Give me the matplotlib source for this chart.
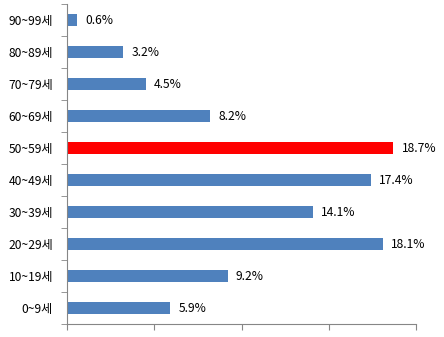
import matplotlib
matplotlib.use("Agg")
import matplotlib.pyplot as plt

categories = ["0~9세", "10~19세", "20~29세", "30~39세", "40~49세",
              "50~59세", "60~69세", "70~79세", "80~89세", "90~99세"]
values = [5.9, 9.2, 18.1, 14.1, 17.4, 18.7, 8.2, 4.5, 3.2, 0.6]
highlight = "50~59세"

plt.rcParams['font.family'] = ['Noto Sans CJK KR', 'DejaVu Sans']

fig = plt.figure(figsize=(4.44, 3.37), dpi=100)
ax = fig.add_axes([67/444, 13/337, (416-67)/444, (324-4)/337])

colors = ["#FF0000" if c == highlight else "#4F81BD" for c in categories]
ypos = list(range(len(categories)))
ax.barh(ypos, values, height=0.4, color=colors)

for y, v in zip(ypos, values):
    ax.annotate(f"{v}%", xy=(v, y), xytext=(6, 0), textcoords="offset points",
                va="center", ha="left", fontsize=8.7, color="black")

ax.set_xlim(0, 20)
ax.set_ylim(-0.5, len(categories) - 0.5)
ax.set_xticks([0, 5, 10, 15, 20])
ax.set_xticklabels([])
ax.set_yticks(ypos)
ax.set_yticklabels(categories, fontsize=8.7)
ax.set_yticks([y - 0.5 for y in ypos] + [len(categories) - 0.5], minor=True)

axis_color = "#868686"
for side in ["top", "right"]:
    ax.spines[side].set_visible(False)
for side in ["left", "bottom"]:
    ax.spines[side].set_color(axis_color)
ax.tick_params(axis="y", which="major", length=0, pad=10)
ax.tick_params(axis="y", which="minor", length=4, color=axis_color, direction="out")
ax.tick_params(axis="x", length=4, color=axis_color, direction="out")

fig.savefig("out.png", dpi=100)
